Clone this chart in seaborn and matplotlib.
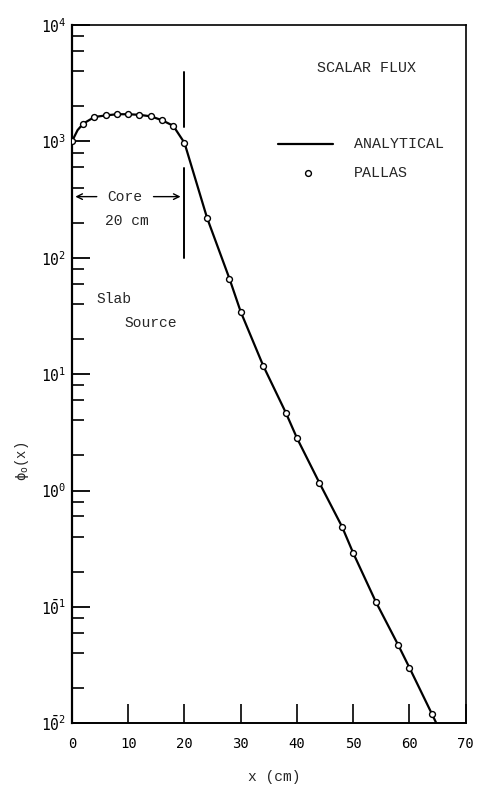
import numpy as np
import pandas as pd
import matplotlib
matplotlib.use("Agg")
import matplotlib.pyplot as plt
from matplotlib.ticker import FixedLocator, FixedFormatter, LogLocator, NullFormatter
import seaborn as sns

# PALLAS discrete-ordinates results (scalar flux vs. distance)
pallas_x = [0, 2, 4, 6, 8, 10, 12, 14, 16, 18, 20, 24, 28, 30, 34, 38, 40, 44, 48, 50, 54, 58, 60, 64]
pallas_flux = [1000, 1420, 1620, 1670, 1710, 1710, 1690, 1640, 1520, 1360, 970, 221, 66, 34.3,
               11.8, 4.68, 2.82, 1.16, 0.49, 0.29, 0.111, 0.047, 0.030, 0.012]

# Analytical solution
analytic_x = [0, 1, 2, 4, 6, 8, 10, 12, 14, 16, 18, 20, 24, 28, 30, 34, 38, 40, 44, 48, 50, 54, 58, 60, 64, 65]
analytic_flux = [1000, 1250, 1420, 1620, 1670, 1710, 1710, 1690, 1640, 1520, 1360, 970, 221, 66, 34.3,
                 11.8, 4.68, 2.82, 1.16, 0.49, 0.29, 0.111, 0.047, 0.030, 0.012, 0.0095]

x_ticks = [0, 10, 20, 30, 40, 50, 60, 70]
y_decades = [1e-2, 1e-1, 1e0, 1e1, 1e2, 1e3, 1e4]
y_labels = [r"$1\bar{0}^{2}$", r"$1\bar{0}^{1}$", r"$10^{0}$", r"$10^{1}$", r"$10^{2}$", r"$10^{3}$", r"$10^{4}$"]

sns.set_style("ticks")
plt.rcParams["font.family"] = ["Liberation Mono", "DejaVu Sans Mono", "DejaVu Sans"]
plt.rcParams["mathtext.fontset"] = "custom"
plt.rcParams["mathtext.rm"] = "DejaVu Sans Mono"
plt.rcParams["mathtext.it"] = "DejaVu Sans Mono"
plt.rcParams["mathtext.bf"] = "DejaVu Sans Mono"

fig = plt.figure(figsize=(4.79, 7.85), dpi=100)
ax = fig.add_axes([0.1503, 0.0786, 0.822, 0.8896])

df_line = pd.DataFrame({"x": analytic_x, "flux": analytic_flux})
df_pts = pd.DataFrame({"x": pallas_x, "flux": pallas_flux})

sns.lineplot(data=df_line, x="x", y="flux", ax=ax, color="black", linewidth=1.6,
             sort=False, estimator=None, zorder=2)
sns.scatterplot(data=df_pts, x="x", y="flux", ax=ax, marker="o", s=18,
                facecolor="white", edgecolor="black", linewidth=1.0, zorder=3)

ax.set_yscale("log")
ax.set_xlim(0, 70)
ax.set_ylim(1e-2, 1e4)

# axis styling
for side in ["left", "bottom", "right", "top"]:
    ax.spines[side].set_color("black")
    ax.spines[side].set_linewidth(1.2)
ax.spines["left"].set_linewidth(1.6)
ax.spines["bottom"].set_linewidth(1.4)

ax.xaxis.set_major_locator(FixedLocator(x_ticks))
ax.set_xticklabels([str(v) for v in x_ticks], family="DejaVu Sans Mono", fontsize=10)
ax.tick_params(axis="x", which="major", direction="in", length=14, width=1.2,
               pad=10, top=False, colors="black")

ax.yaxis.set_major_locator(FixedLocator(y_decades))
ax.yaxis.set_major_formatter(FixedFormatter(y_labels))
ax.yaxis.set_minor_locator(LogLocator(base=10, subs=(2, 4, 6, 8)))
ax.yaxis.set_minor_formatter(NullFormatter())
ax.tick_params(axis="y", which="major", direction="in", length=13, width=1.3,
               pad=4, right=False, labelsize=10.5, colors="black")
ax.tick_params(axis="y", which="minor", direction="in", length=8.5, width=1.2,
               right=False, colors="black")

ax.set_xlabel("")
ax.set_ylabel("")

# core boundary marker at x = 20 cm
ax.plot([20, 20], [3940, 1340], color="black", linewidth=1.4, zorder=1)
ax.plot([20, 20], [594, 100], color="black", linewidth=1.4, zorder=1)

# "Core 20 cm" dimension arrow
arrow_kw = dict(arrowstyle="->", color="black", lw=1.0, mutation_scale=10)
ax.annotate("", xy=(0.1, 335), xytext=(4.9, 335), arrowprops=arrow_kw)
ax.annotate("", xy=(19.8, 335), xytext=(14.0, 335), arrowprops=arrow_kw)
ax.text(9.3, 335, "Core", ha="center", va="center", fontsize=10.5)
ax.text(9.8, 205, "20 cm", ha="center", va="center", fontsize=10.5)

ax.text(4.4, 44, "Slab", ha="left", va="center", fontsize=10.5)
ax.text(9.4, 27.5, "Source", ha="left", va="center", fontsize=10.5)

# title and legend
tf = ax.transAxes
ax.text(0.749, 0.938, "SCALAR FLUX", transform=tf, ha="center", va="center", fontsize=10.8)
ax.plot([0.523, 0.662], [0.829, 0.829], transform=tf, color="black", linewidth=1.6)
ax.text(0.716, 0.829, "ANALYTICAL", transform=tf, ha="left", va="center", fontsize=10.8)
ax.plot([0.600], [0.7876], transform=tf, marker="o", markersize=4.2, markerfacecolor="white",
        markeredgecolor="black", markeredgewidth=1.0, linestyle="none")
ax.text(0.716, 0.7876, "PALLAS", transform=tf, ha="left", va="center", fontsize=10.8)

fig.text(274 / 479, 1 - 777 / 785, "x (cm)", ha="center", va="center", fontsize=10.5)
fig.text(22 / 479, 1 - 461 / 785, r"$\phi_{o}$(x)", ha="center", va="center",
         rotation=90, fontsize=10)

fig.savefig("out.png", dpi=100, facecolor="white")
